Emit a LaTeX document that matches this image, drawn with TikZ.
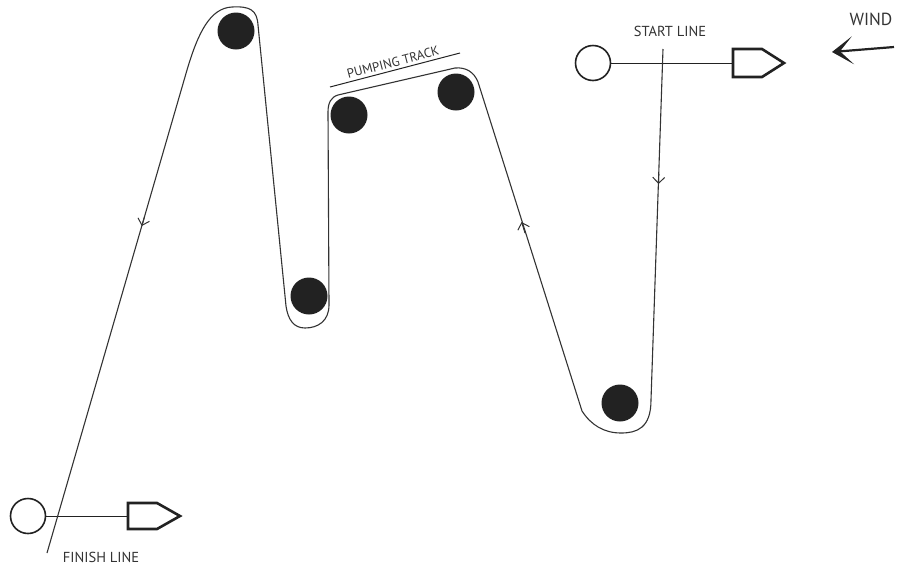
\documentclass[tikz,border=0pt]{standalone}
\usepackage{fontspec}
\setmainfont{PT Sans}
\usetikzlibrary{arrows.meta,calc}
\definecolor{ink}{HTML}{222222}
\definecolor{txt}{HTML}{333333}
\begin{document}
\begin{tikzpicture}[x=1pt,y=-1pt,
  rounding/.style={circle,fill=ink,minimum size=37pt,inner sep=0pt},
  buoy/.style={circle,draw=ink,line width=1.6pt,minimum size=35pt,inner sep=0pt},
  flagshape/.style={draw=ink,line width=2.6pt,line join=miter},
  course/.style={line width=1.1pt,draw=black!80},
  lbl/.style={text=txt,font=\fontsize{14.5}{14.5}\selectfont,inner sep=0pt},
  chev/.style={line width=1pt,draw=black!80,-{Straight Barb[length=6pt,width=12pt]}}
]
\useasboundingbox (0,0) rectangle (898,574);

% rounding marks
\node[rounding] (m1) at (236,31) {};
\node[rounding] (m2) at (349,115) {};
\node[rounding] (m3) at (456,92) {};
\node[rounding] (m4) at (309,296) {};
\node[rounding] (m5) at (620,403) {};

% start line
\node[buoy] (sb) at (593,63) {};
\coordinate (sf) at (733,63);
\draw[ink,line width=1pt] (sb) -- (sf);
\draw[flagshape] (sf) -- ++(0,-14) -- ++(29,0) -- ++(22,14) -- ++(-22,14) -- ++(-29,0) -- cycle;
\node[lbl] (startlbl) at (670,31) {START LINE};

% finish line
\node[buoy] (fb) at (28,516) {};
\coordinate (ff) at (128,516);
\draw[ink,line width=1pt] (fb) -- (ff);
\draw[flagshape] (ff) -- ++(0,-13) -- ++(29,0) -- ++(23,13) -- ++(-23,13) -- ++(-29,0) -- cycle;
\node[lbl] (finlbl) at (101,557) {FINISH LINE};

% wind
\node[lbl,font=\fontsize{17.5}{17.5}\selectfont] (windlbl) at (871,19) {WIND};
\coordinate (w1) at (894,47);
\coordinate (w2) at (832,52);
\draw[ink,line width=2.2pt,-{Stealth[length=21pt,width=28pt,inset=13pt]}] (w1) -- (w2);

% pumping track label
\coordinate (p1) at (330,87);
\coordinate (p2) at (460,53);
\draw[ink,line width=1pt] (p1) -- (p2);
\node[lbl,font=\fontsize{13}{13}\selectfont,anchor=south,rotate=14.7,inner sep=3pt] (pumplbl) at ($(p1)!0.5!(p2)$) {PUMPING TRACK};

% course
\draw[course] (663,49) -- (651,400)
  .. controls (651,428) and (637,433) .. (621,433)
  .. controls (604,433) and (591,425) .. (582,411)
  -- (478,82)
  .. controls (474,72) and (466,67) .. (455,68)
  -- (338,95)
  .. controls (331,97) and (328,103) .. (328,112)
  -- (329,305)
  .. controls (329,321) and (318,328) .. (305,328)
  .. controls (294,328) and (288,320) .. (286,306)
  -- (258,25)
  .. controls (257,10) and (250,6) .. (232,7)
  .. controls (210,8) and (198,33) .. (187,70)
  -- (47,553);

% direction chevrons
\draw[chev] (658.8,174) -- (658.5,184);
\draw[chev] (525,233) -- (521.6,222);
\draw[chev] (144.5,217) -- (141.8,226);
\end{tikzpicture}
\end{document}
